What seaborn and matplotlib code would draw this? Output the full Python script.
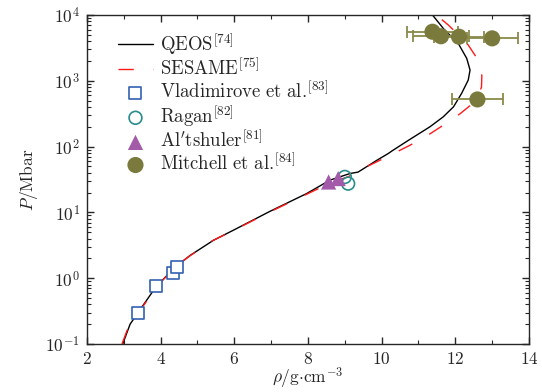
import matplotlib
matplotlib.use("Agg")
import matplotlib.pyplot as plt
from matplotlib.ticker import MultipleLocator, LogLocator, NullFormatter
import numpy as np
import pandas as pd
import seaborn as sns

# QEOS Hugoniot
rho_qeos = [2.97, 3.17, 3.385, 3.88, 4.3, 4.44, 4.8, 5.43, 5.97, 6.97, 7.96, 8.6,
            9.14, 9.36, 9.87, 10.18, 10.28, 10.72, 11.31, 11.67, 11.95, 12.17,
            12.35, 12.40, 12.31, 12.08, 11.70, 11.38]
p_qeos = [0.1, 0.2, 0.30, 0.75, 1.3, 1.55, 2.22, 3.76, 5.35, 10.4, 19.3, 31,
          39, 41, 62, 78.6, 86, 124, 200, 283, 402, 643,
          1025, 1456, 2190, 3700, 6000, 10000]

# SESAME Hugoniot
rho_sesame = [2.95, 3.15, 3.4, 3.9, 4.4, 4.8, 5.4, 6.0, 7.0, 8.0, 8.6, 9.1, 9.36,
              9.82, 10.23, 10.77, 11.18, 11.67, 12.13, 12.4, 12.62, 12.71, 12.72,
              12.62, 12.35, 12.1, 11.81, 11.54, 11.45]
p_sesame = [0.1, 0.2, 0.3, 0.75, 1.5, 2.2, 3.7, 5.4, 10.4, 19.3, 28, 35, 43,
            57, 74, 105, 140, 211, 316, 420, 600, 800, 1200,
            2070, 3500, 4900, 7050, 9400, 10000]

# Experimental data
rho_vlad = [3.385, 3.88, 4.335, 4.435]
p_vlad = [0.30, 0.75, 1.22, 1.5]

rho_ragan = [9.0, 9.09]
p_ragan = [34.6, 27.4]

rho_alt = [8.56, 8.82]
p_alt = [29.0, 32.7]

rho_mitch = [11.38, 11.61, 12.10, 13.00, 12.60]
p_mitch = [5570, 4760, 4680, 4420, 521]
rho_mitch_err = [0.68, 0.75, 0.69, 0.69, 0.69]

sns.set_style("ticks")
plt.rcParams.update({
    "font.family": "serif",
    "font.serif": ["cmr10", "DejaVu Serif"],
    "mathtext.fontset": "cm",
    "axes.formatter.use_mathtext": True,
    "axes.unicode_minus": False,
    "xtick.direction": "in",
    "ytick.direction": "in",
    "xtick.top": True,
    "ytick.right": True,
    "axes.linewidth": 1.0,
})

fig = plt.figure(figsize=(5.42, 3.92), dpi=100)
ax = fig.add_axes([0.1605, 0.1224, 0.8155, 0.8393])

qeos = pd.DataFrame({"rho": rho_qeos, "P": p_qeos})
sesame = pd.DataFrame({"rho": rho_sesame, "P": p_sesame})

sns.lineplot(data=qeos, x="rho", y="P", sort=False, estimator=None, ax=ax,
             color="black", lw=1.0, label=r"$\mathrm{QEOS}^{[74]}$", zorder=2)
sns.lineplot(data=sesame, x="rho", y="P", sort=False, estimator=None, ax=ax,
             color="#ff1a1a", lw=1.0, linestyle=(0, (11, 14)),
             label=r"$\mathrm{SESAME}^{[75]}$", zorder=3)

sns.scatterplot(x=rho_vlad, y=p_vlad, ax=ax, marker="s", s=85,
                facecolor="white", edgecolor="#3460b0", linewidth=1.2,
                label=r"$\mathrm{Vladimirove\ et\ al.}\!^{[83]}$", zorder=4)
sns.scatterplot(x=rho_ragan, y=p_ragan, ax=ax, marker="o", s=85,
                facecolor="none", edgecolor="#2a8c8c", linewidth=1.2,
                label=r"$\mathrm{Ragan}^{[82]}$", zorder=4)
sns.scatterplot(x=rho_alt, y=p_alt, ax=ax, marker="^", s=120,
                color="#a35aa8", edgecolor="none",
                label=r"$\mathrm{Al}^{\prime}\mathrm{tshuler}^{[81]}$", zorder=5)
ax.errorbar(rho_mitch, p_mitch, xerr=rho_mitch_err, fmt="none",
            ecolor="#8a8a4a", elinewidth=1.3, capsize=4, capthick=1.3, zorder=4)
sns.scatterplot(x=rho_mitch, y=p_mitch, ax=ax, marker="o", s=135,
                color="#7a7a3c", edgecolor="none",
                label=r"$\mathrm{Mitchell\ et\ al.}\!^{[84]}$", zorder=6)

ax.set_yscale("log")
ax.set_xlim(2, 14)
ax.set_ylim(0.1, 1e4)
ax.xaxis.set_major_locator(MultipleLocator(2))
ax.xaxis.set_minor_locator(MultipleLocator(1))
ax.yaxis.set_major_locator(LogLocator(base=10, numticks=10))
ax.yaxis.set_minor_locator(LogLocator(base=10, subs=np.arange(2, 10), numticks=20))
ax.yaxis.set_minor_formatter(NullFormatter())
ax.tick_params(which="major", length=5, width=1.0, labelsize=12.5, pad=5)
ax.tick_params(which="minor", length=2.8, width=0.8)

ax.set_xlabel(r"$\rho/\mathrm{g{\cdot}cm}^{-3}$", fontsize=12.5, labelpad=-1)
ax.set_ylabel(r"$P/\mathrm{Mbar}$", fontsize=12.5, labelpad=4)

leg = ax.legend(loc="upper left", bbox_to_anchor=(0.045, 0.985), frameon=False,
                fontsize=13.5, handlelength=1.85, handletextpad=0.4,
                labelspacing=0.05, borderaxespad=0.2)

fig.savefig("out.png", dpi=100)
